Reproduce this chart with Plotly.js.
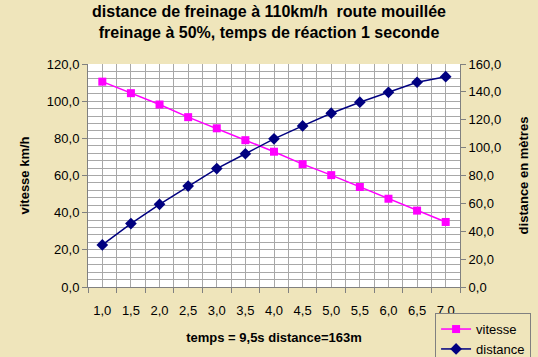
<!DOCTYPE html>
<html>
<head>
<meta charset="utf-8">
<script src="https://cdn.plot.ly/plotly-3.0.1.min.js"></script>
<style>html,body{margin:0;padding:0;background:#efe5bb;}#chart{width:538px;height:357px;}</style>
</head>
<body>
<div id="chart"></div>
<script>
const temps = [1.0, 1.5, 2.0, 2.5, 3.0, 3.5, 4.0, 4.5, 5.0, 5.5, 6.0, 6.5, 7.0];
const vitesse = [110.5, 104.3, 98.2, 91.4, 85.4, 79.0, 72.8, 66.1, 60.2, 53.8, 47.5, 41.1, 35.0];
const distance = [30.2, 45.5, 59.3, 72.4, 85.0, 95.6, 106.3, 115.6, 124.7, 132.6, 139.7, 146.9, 150.9];
const titleText = "distance de freinage à 110km/h  route mouillée<br>freinage à 50%, temps de réaction 1 seconde";
const xTitle = "temps = 9,5s distance=163m";
const yTitle = "vitesse km/h";
const y2Title = "distance en mètres";

const FONT = "Liberation Sans, Arial, sans-serif";
const grid = "#a8a8a8";

const data = [
  {x: temps, y: vitesse, name: "vitesse", type: "scatter", mode: "lines+markers",
   line: {color: "#ff00ff", width: 1.5}, marker: {symbol: "square", size: 8, color: "#ff00ff"}, yaxis: "y"},
  {x: temps, y: distance, name: "distance", type: "scatter", mode: "lines+markers",
   line: {color: "#000080", width: 1.5}, marker: {symbol: "diamond", size: 9, color: "#000080"}, yaxis: "y2"}
];

const layout = {
  width: 538, height: 357,
  paper_bgcolor: "#efe5bb", plot_bgcolor: "#ffffff",
  separators: ", ",
  font: {family: FONT, size: 13, color: "#000"},
  margin: {l: 88, r: 78, t: 64, b: 70, pad: 0, autoexpand: false},
  title: {text: titleText, font: {family: FONT, size: 16, weight: "bold", color: "#000"},
          x: 0.5, xanchor: "center", y: 0.951, yanchor: "middle", yref: "container", automargin: false},
  showlegend: true,
  legend: {x: 0.933, xanchor: "left", y: -0.117, yanchor: "top", bgcolor: "#efe5bb",
           bordercolor: "#808080", borderwidth: 1, font: {family: FONT, size: 13},
           tracegroupgap: 2, itemwidth: 30},
  xaxis: {range: [0.75, 7.25], tickmode: "linear", tick0: 1, dtick: 0.5, tickformat: ".1f",
          ticks: "", showgrid: true, gridcolor: grid, gridwidth: 1, zeroline: false,
          showline: true, linecolor: "#808080", linewidth: 1, automargin: false,
          minor: {tick0: 0.75, dtick: 0.5, ticks: "outside", ticklen: 5, tickcolor: "#808080", showgrid: true, gridcolor: grid, gridwidth: 1},
          tickfont: {family: FONT, size: 13}, ticklabelstandoff: 11,
          title: {text: xTitle, font: {family: FONT, size: 13, weight: "bold"}, standoff: 16}},
  yaxis: {range: [0, 120], tickmode: "linear", tick0: 0, dtick: 20, tickformat: ".1f",
          ticks: "outside", ticklen: 5, tickcolor: "#808080", showgrid: true, gridcolor: grid, gridwidth: 1,
          zeroline: false, showline: true, linecolor: "#808080", linewidth: 1, automargin: false,
          minor: {dtick: 4, showgrid: true, gridcolor: grid, gridwidth: 1, ticks: ""},
          tickfont: {family: FONT, size: 13},
          title: {text: yTitle, font: {family: FONT, size: 13, weight: "bold"}, standoff: 14}},
  yaxis2: {range: [0, 160], tickmode: "linear", tick0: 0, dtick: 20, tickformat: ".1f",
           overlaying: "y", side: "right", ticks: "outside", ticklen: 5, tickcolor: "#808080",
           showgrid: false, zeroline: false, showline: true, linecolor: "#808080", linewidth: 1, automargin: false,
           tickfont: {family: FONT, size: 13},
           title: {text: y2Title, font: {family: FONT, size: 13, weight: "bold"}, standoff: 18}}
};

Plotly.newPlot("chart", data, layout, {displayModeBar: false, staticPlot: true});
</script>
</body>
</html>
